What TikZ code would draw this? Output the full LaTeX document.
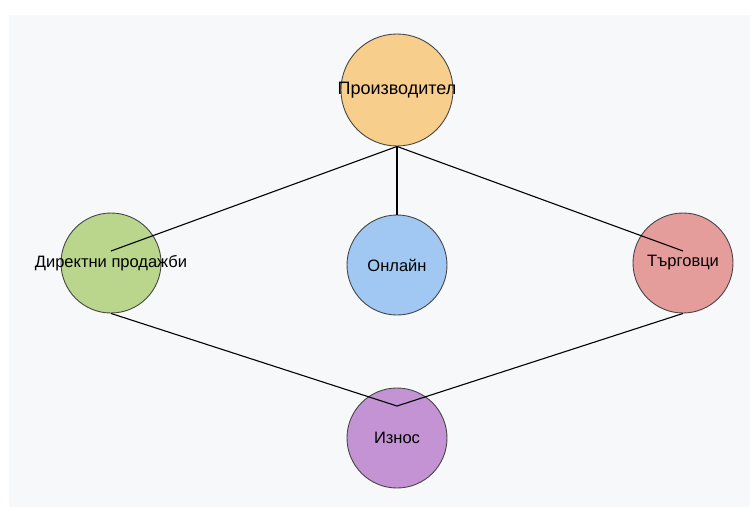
\documentclass[tikz,border=0pt]{standalone}
\usepackage{fontspec}
\setmainfont{Liberation Sans}
\definecolor{prodorange}{RGB}{248,206,140}
\definecolor{directgreen}{RGB}{185,214,140}
\definecolor{onlineblue}{RGB}{160,200,242}
\definecolor{traderred}{RGB}{229,157,155}
\definecolor{exportpurple}{RGB}{195,147,212}
\definecolor{panelgray}{RGB}{247,248,250}
\definecolor{rimgray}{RGB}{70,70,70}
\usetikzlibrary{calc}
\tikzset{
  chan/.style={circle,draw=rimgray,line width=0.9pt,fill=#1,
               minimum size=100pt,inner sep=0pt},
  chan/.default=onlineblue,
  link/.style={black,line width=1.1pt},
}

\begin{document}
\begin{tikzpicture}[x=1pt,y=-1pt,
  every label/.style={font=\fontsize{16.5}{19}\selectfont,inner sep=0pt}
]
  \useasboundingbox (0,0) rectangle (750,507);
  \fill[panelgray] (9,15) rectangle (750,507);

  % Channels
  \node[chan=prodorange,minimum size=112pt,
        label={[font=\fontsize{18}{21}\selectfont]center:Производител}] (prod) at (397,90) {};
  \node[chan=directgreen,label=center:{Директни продажби}] (direct) at (111,263) {};
  \node[chan=onlineblue,label=center:{Онлайн}] (online) at (397,265) {};
  \node[chan=traderred,label=center:{Търговци}] (traders) at (683,263) {};
  \node[chan=exportpurple,label=center:{Износ}] (export) at (397,438) {};

  % Links from the producer
  \draw[link] (prod.south) -- ([yshift=12pt]direct.center);
  \draw[link] (prod.south) -- (online.north);
  \draw[link] (prod.south) -- ([yshift=12pt]traders.center);

  % Links into export
  \draw[link] (direct.south) -- ([yshift=32pt]export.center);
  \draw[link] (traders.south) -- ([yshift=32pt]export.center);

\end{tikzpicture}
\end{document}
